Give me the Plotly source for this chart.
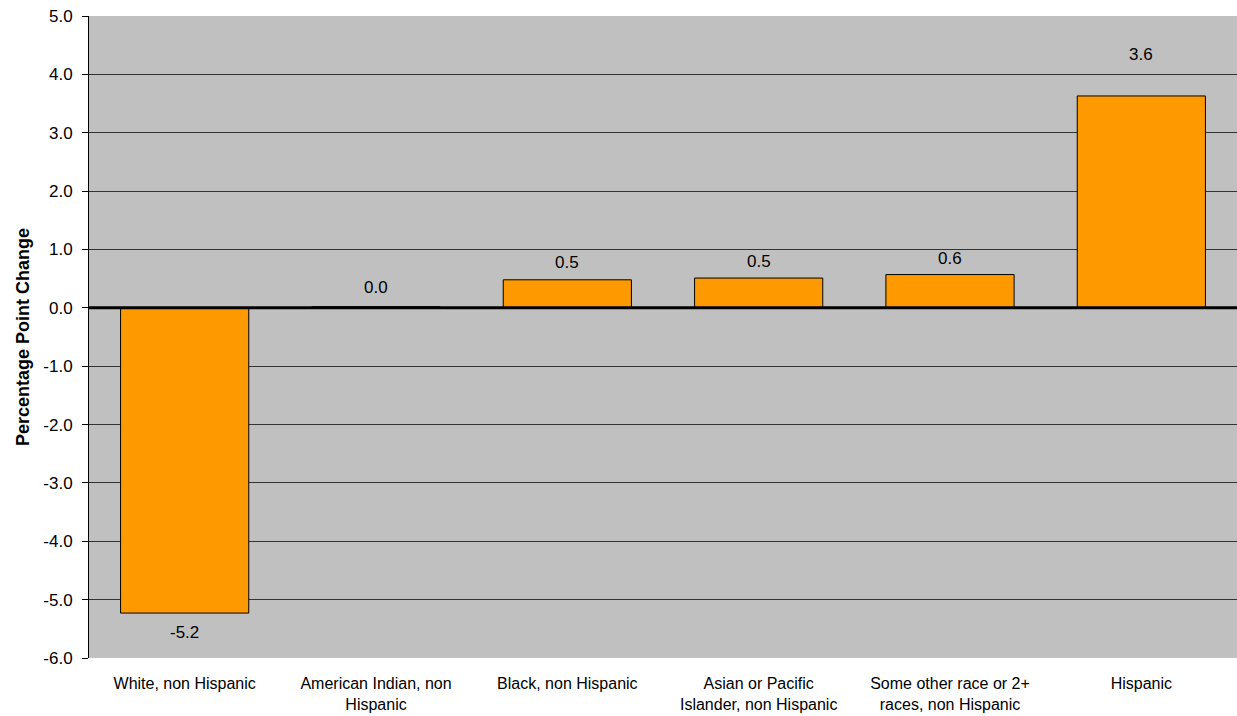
import plotly.graph_objects as go

categories = [
    "White, non Hispanic",
    "American Indian, non<br>Hispanic",
    "Black, non Hispanic",
    "Asian or Pacific<br>Islander, non Hispanic",
    "Some other race or 2+<br>races, non Hispanic",
    "Hispanic",
]
values = [-5.23, 0.02, 0.48, 0.51, 0.57, 3.63]
labels = ["-5.2", "0.0", "0.5", "0.5", "0.6", "3.6"]
label_shift = [-19, 19, 17, 17, 16, 41]

tick_vals = [-6, -5, -4, -3, -2, -1, 0, 1, 2, 3, 4, 5]
tick_text = ["%.1f" % v for v in tick_vals]

FONT = "Liberation Sans, Arial, sans-serif"
FS = 17

fig = go.Figure()
fig.add_trace(go.Bar(
    x=categories, y=values,
    marker=dict(color="#FF9900", line=dict(color="black", width=1)),
    hoverinfo="skip",
))

for c, v, t, s in zip(categories, values, labels, label_shift):
    fig.add_annotation(x=c, y=v, text=t, showarrow=False, yshift=s,
                       yanchor="middle", font=dict(family=FONT, size=FS, color="black"))

fig.add_shape(type="line", xref="paper", yref="y", x0=0, x1=1, y0=0, y1=0,
              line=dict(color="black", width=3), layer="above")

fig.update_layout(
    width=1237, height=716,
    margin=dict(l=89, r=0, t=16, b=58, autoexpand=False),
    plot_bgcolor="#C0C0C0",
    paper_bgcolor="white",
    bargap=0.33,
    showlegend=False,
    font=dict(family=FONT, size=FS, color="black"),
)
fig.update_xaxes(
    showgrid=False, showline=False, ticks="",
    ticklabelstandoff=14,
    tickfont=dict(family=FONT, size=16, color="black"),
    automargin=False,
)
fig.update_yaxes(
    range=[-6, 5], tickvals=tick_vals, ticktext=tick_text,
    showgrid=True, gridcolor="#333333", gridwidth=1,
    zeroline=False,
    showline=True, linecolor="black", linewidth=1,
    ticks="outside", ticklen=6, tickcolor="black",
    ticklabelstandoff=6,
    tickfont=dict(family=FONT, size=FS, color="black"),
    automargin=False,
    title=dict(text="<b>Percentage Point Change</b>", font=dict(family=FONT, size=18, color="black"), standoff=9),
)

fig.write_html(
    "out.html",
    config={"displayModeBar": False},
    post_script="document.body.style.margin='0';document.body.style.overflow='hidden';",
)
